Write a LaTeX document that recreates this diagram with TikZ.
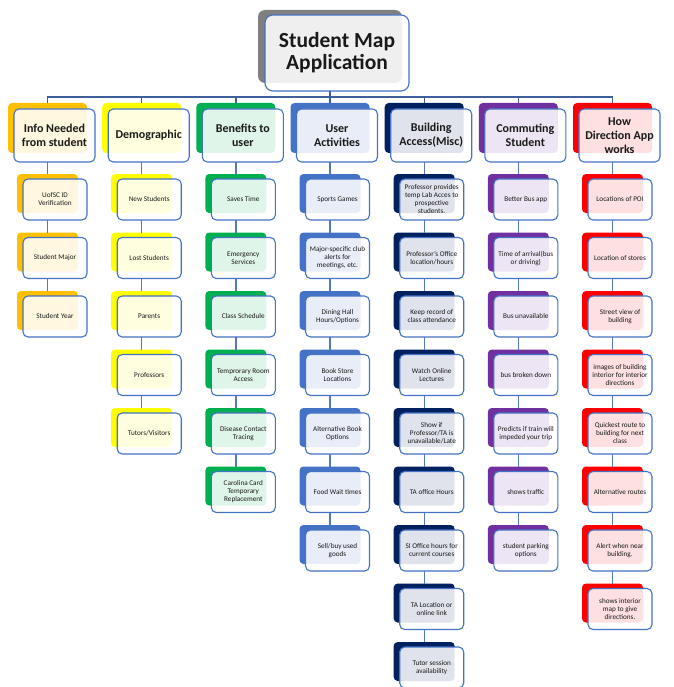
\documentclass[tikz,border=0pt]{standalone}
\usepackage{fontspec}
\setmainfont{Carlito}
\definecolor{boxline}{HTML}{4472C4}
\definecolor{busline}{HTML}{3F5E9C}
\definecolor{linkline}{HTML}{5577BB}
\definecolor{titlegray}{HTML}{7F7F7F}
\definecolor{cOrange}{HTML}{FFC000}
\definecolor{cYellow}{HTML}{FFFF00}
\definecolor{cGreen}{HTML}{00B050}
\definecolor{cBlue}{HTML}{4472C4}
\definecolor{cNavy}{HTML}{002060}
\definecolor{cPurple}{HTML}{7030A0}
\definecolor{cRed}{HTML}{FF0000}
\newcommand\titlefont{\fontsize{21.5}{22}\selectfont\bfseries}
\newcommand\headfont{\fontsize{12}{14}\selectfont\bfseries}
\newcommand\childfont{\fontsize{7.2}{8}\selectfont}
\tikzset{
  backbox/.style={rounded corners=4pt, inner sep=0pt, outer sep=0pt, draw=none},
  frontbox/.style={rounded corners=5pt, draw=boxline, line width=1.1pt,
    fill=white, fill opacity=0.88, text opacity=1, inner sep=1pt,
    outer sep=0pt, align=center, text=black!90},
  headback/.style={backbox, minimum width=79pt, minimum height=50pt},
  headfront/.style={frontbox, minimum width=81pt, minimum height=53pt, font=\headfont},
  childback/.style={backbox, minimum width=61pt, minimum height=39pt},
  childfront/.style={frontbox, minimum width=64pt, minimum height=41pt, font=\childfont},
  bus/.style={draw=busline, line width=1.4pt},
  link/.style={draw=linkline, line width=1.4pt},
}
% #1 column id, #2 x of the column axis, #3 accent colour, #4 heading, #5 items
\newcommand\drawcolumn[5]{%
  \node[headback, fill=#3] (b#1-h) at (#2,128) {};
  \node[headfront] (f#1-h) at ({#2+7},135.5) {#4};
  \draw[bus] (bus) -| (b#1-h.north);
  \foreach \t [count=\k from 0] in {#5} {%
    \ifnum\k=0 \def\pk{h}\else \pgfmathtruncatemacro\pk{\k-1}\fi
    \node[childback, fill=#3] (b#1-\k) at (#2,{193.5+58.5*\k}) {};
    \node[childfront] (f#1-\k) at ({#2+7.5},{199.5+58.5*\k}) {\t};
    \draw[link] (b#1-\k.north |- f#1-\pk.south) -- (b#1-\k.north);
  }%
}
\begin{document}
\begin{tikzpicture}[x=1pt,y=-1pt]
\useasboundingbox (0,0) rectangle (673,687);

% title
\node[backbox, fill=titlegray, minimum width=144pt, minimum height=73pt, rounded corners=7pt] (tb) at (330,46.5) {};
\node[frontbox, minimum width=144pt, minimum height=76pt, rounded corners=8pt, font=\titlefont] (tf) at (337,53) {Student Map\\Application};
\coordinate (bus) at (330,97);
\draw[bus] (tb.center |- tf.south) -- (bus);

\drawcolumn{1}{47.5}{cOrange}{Info Needed\\from student}{%
  {UofSC ID\\Verification},{Student Major},{Student Year}}
\drawcolumn{2}{141.7}{cYellow}{Demographic}{%
  {New Students},{Lost Students},{Parents},{Professors},{Tutors/Visitors}}
\drawcolumn{3}{235.8}{cGreen}{Benefits to\\user}{%
  {Saves Time},{Emergency\\Services},{Class Schedule},{Temprorary Room\\Access},
  {Disease Contact\\Tracing},{Carolina Card\\Temporary\\Replacement}}
\drawcolumn{4}{330}{cBlue}{User\\Activities}{%
  {Sports Games},{Major-specific club\\alerts for\\meetings, etc.},
  {Dining Hall\\Hours/Options},{Book Store\\Locations},{Alternative Book\\Options},
  {Food Wait times},{Sell/buy used\\goods}}
\drawcolumn{5}{424.2}{cNavy}{Building\\Access(Misc)}{%
  {Professor provides\\temp Lab Acces to\\prospective\\students.},
  {Professor’s Office\\location/hours},{Keep record of\\class attendance},
  {Watch Online\\Lectures},{Show if\\Professor/TA is\\unavailable/Late},
  {TA office Hours},{SI Office hours for\\current courses},
  {TA Location or\\online link},{Tutor session\\availability}}
\drawcolumn{6}{518.3}{cPurple}{Commuting\\Student}{%
  {Better Bus app},{Time of arrival(bus\\or driving)},{Bus unavailable},
  {bus broken down},{Predicts if train will\\impeded your trip},
  {shows traffic},{student parking\\options}}
\drawcolumn{7}{612.5}{cRed}{How\\Direction App\\works}{%
  {Locations of POI},{Location of stores},{Street view of\\building},
  {images of building\\interior for interior\\directions},
  {Quickest route to\\building for next\\class},{Alternative routes},
  {Alert when near\\building.},{shows interior\\map to give\\directions.}}
\end{tikzpicture}
\end{document}
